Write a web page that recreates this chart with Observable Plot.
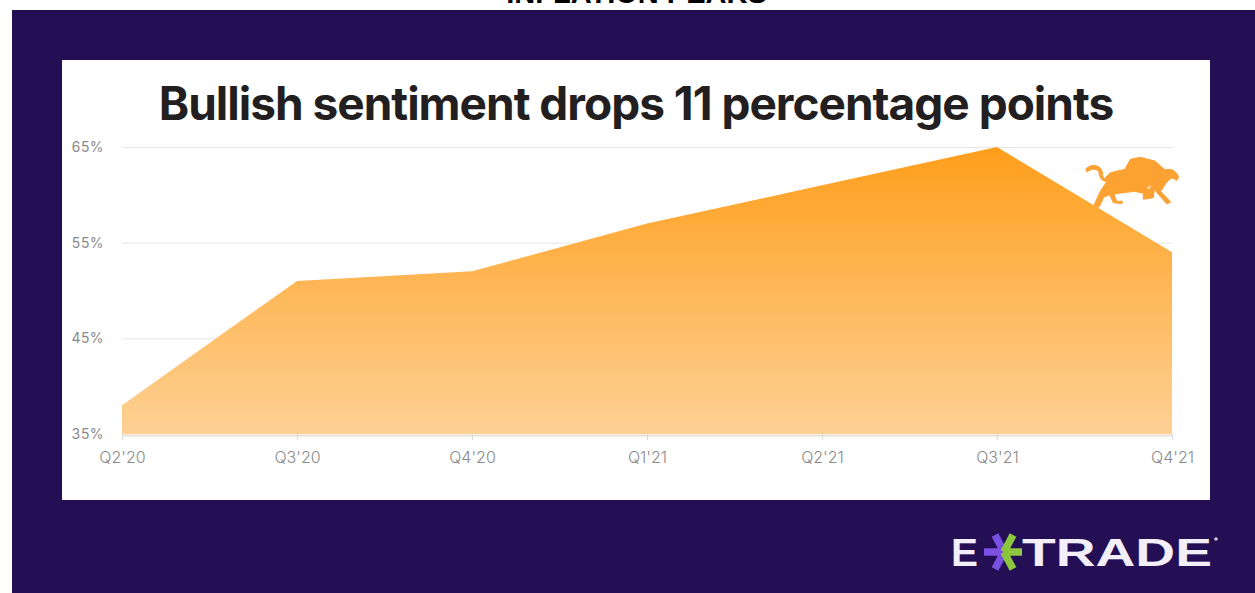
<!DOCTYPE html>
<html>
<head>
<meta charset="utf-8">
<script src="https://cdn.jsdelivr.net/npm/d3@7"></script>
<script src="https://cdn.jsdelivr.net/npm/@observablehq/plot@0.6"></script>
<style>
  html, body { margin: 0; padding: 0; background: #fff; }
  #page { position: relative; width: 1255px; height: 593px; overflow: hidden; }
  #headline { position: absolute; left: 0; width: 1273px; top: -23px; text-align: center;
    font: 700 29px/32px "Liberation Sans", sans-serif; color: #000; white-space: nowrap; }
  #band { position: absolute; left: 12px; top: 10px; width: 1243px; height: 583px; background: #240f55; }
  #panel { position: absolute; left: 62px; top: 60px; width: 1148px; height: 440px; background: #fff; }
  #title { position: absolute; left: 62px; width: 1148px; top: 75px; text-align: center;
    font: 700 46px/56px Inter, sans-serif; color: #231f20; letter-spacing: -1px; white-space: nowrap; }
  #chart { position: absolute; left: 0; top: 0; }
  #chart svg { background: transparent; overflow: visible; }
  #art { position: absolute; left: 0; top: 0; pointer-events: none; }
</style>
</head>
<body>
<div id="page">
  <div id="headline">INFLATION PEAKS</div>
  <div id="band"></div>
  <div id="panel"></div>
  <div id="title">Bullish sentiment drops 11 percentage points</div>
  <div id="chart"></div>
  <svg id="art" width="1255" height="593" xmlns="http://www.w3.org/2000/svg">
    <!-- bull silhouette leaping off the slope -->
    <g transform="translate(1075,150) scale(0.3333)">
      <path fill="#fba232" stroke="#fba232" stroke-width="3" stroke-linejoin="round"
        d="M32 58 C42 44 66 42 78 56 C86 68 80 82 88 86 L106 68 L150 58 L166 28 L195 22 L240 33 L270 60 C288 54 304 62 311 82 L304 92 C298 84 290 82 284 88 L272 100 L264 114 L257 124 L287 156 L276 162 L246 128 L238 118 L235 143 L205 148 L205 130 L180 124 L145 128 L117 132 L125 154 L143 154 L140 161 L115 158 L104 134 L86 142 L72 172 L57 166 L76 124 L96 94 C82 96 72 82 72 66 C64 54 50 56 36 66 Z"/>
      <path fill="#fff" opacity="0.6" d="M216 110 L228 108 L226 116 L216 116 Z"/>
    </g>
    <!-- brokerage wordmark -->
    <g font-family="'Liberation Sans', sans-serif" font-weight="700" fill="#f3effa">
      <text x="951" y="565.5" font-size="38" textLength="27" lengthAdjust="spacingAndGlyphs">E</text>
      <text x="1022" y="565.5" font-size="38" textLength="190" lengthAdjust="spacingAndGlyphs">TRADE</text>
      <circle cx="1216" cy="539" r="1.8" fill="#cfc8e0"/>
    </g>
    <g stroke-width="7.5" fill="none" stroke-linecap="butt">
      <path stroke="#7b4fe0" d="M1004 552 H984 M1004 552 L995 535 M1004 552 L995 569"/>
      <path stroke="#8cc63f" d="M1004 552 H1022 M1004 552 L1013 535 M1004 552 L1013 569"/>
    </g>
  </svg>
</div>
<script>
// Quarterly share of bullish investors
const quarters = ["Q2'20", "Q3'20", "Q4'20", "Q1'21", "Q2'21", "Q3'21", "Q4'21"];
const bullish = [38, 51, 52, 57, 61, 65, 54];
const yTicks = [35, 45, 55, 65];

const rows = quarters.map((quarter, i) => ({quarter, value: bullish[i]}));

// Vertical orange fade applied to the area
const gradientDefs = () => {
  const ns = "http://www.w3.org/2000/svg";
  const defs = document.createElementNS(ns, "defs");
  const grad = document.createElementNS(ns, "linearGradient");
  grad.setAttribute("id", "fade");
  grad.setAttribute("x1", "0"); grad.setAttribute("x2", "0");
  grad.setAttribute("y1", "0"); grad.setAttribute("y2", "1");
  [["0%", "#ff9e1b"], ["100%", "#fdd195"]].forEach(([offset, color]) => {
    const stop = document.createElementNS(ns, "stop");
    stop.setAttribute("offset", offset);
    stop.setAttribute("stop-color", color);
    grad.appendChild(stop);
  });
  defs.appendChild(grad);
  return defs;
};

const chart = Plot.plot({
  width: 1255,
  height: 593,
  marginLeft: 122,
  marginRight: 83,
  marginTop: 147,
  marginBottom: 159,
  style: {fontFamily: "Inter, sans-serif", fontSize: "14px", color: "#8a8a8a", background: "transparent"},
  x: {type: "point", domain: quarters, padding: 0, label: null},
  y: {domain: [35, 65], label: null},
  marks: [
    gradientDefs,
    Plot.ruleY(yTicks.slice(1), {stroke: "#e6e6e6", strokeOpacity: 1}),
    Plot.areaY(rows, {x: "quarter", y1: 35, y2: "value", fill: "url(#fade)", curve: "linear"}),
    Plot.ruleY([35], {stroke: "#eadfd2", strokeWidth: 2, dy: 1}),
    Plot.axisY({ticks: yTicks, tickSize: 0, tickPadding: 0, dx: -19, tickFormat: d => d + "%", label: null, fill: "#8a8a8a"}),
    Plot.axisX({tickSize: 6, tickPadding: 11, stroke: "#dcdcdc", fill: "#8a8a8a", fontSize: 16, fontWeight: 300, label: null})
  ]
});
document.getElementById("chart").appendChild(chart);
</script>
</body>
</html>
